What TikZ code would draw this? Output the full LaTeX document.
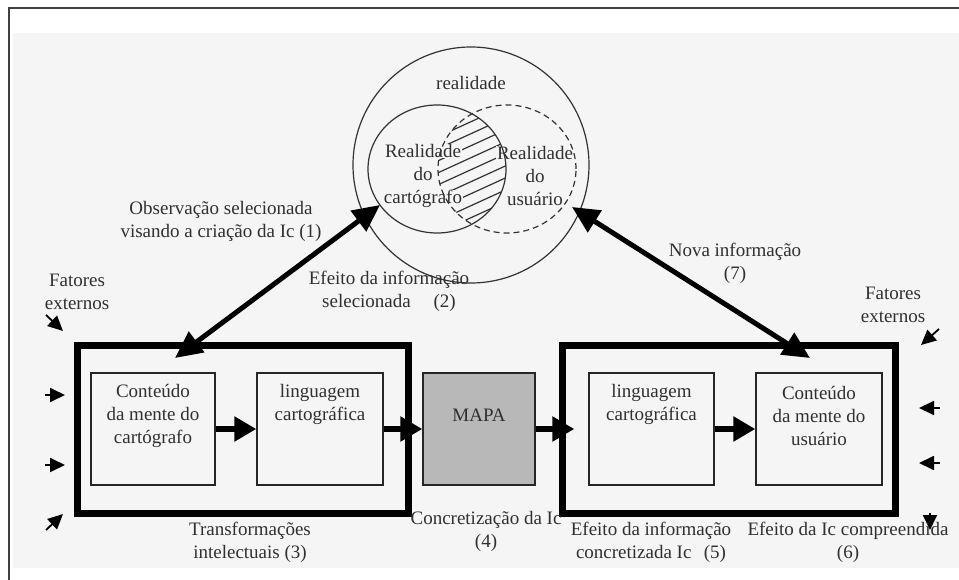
\documentclass[tikz,border=0pt]{standalone}
\usepackage{fontspec}
\setmainfont{Liberation Serif}
\usetikzlibrary{arrows.meta,shapes.geometric}
\definecolor{bgc}{HTML}{F5F5F5}
\definecolor{mapc}{HTML}{B8B8B8}
\definecolor{ink}{HTML}{303030}
% text set on a small patch of background colour, so hatching stops around it
\newcommand\halo[1]{{\setlength{\fboxsep}{0.6pt}\colorbox{bgc}{#1}}}

\begin{document}
\begin{tikzpicture}[x=1pt,y=-1pt,
  txt/.style={text=ink, align=center, font=\fontsize{19}{23}\selectfont, inner sep=0pt},
  inbox/.style={draw=black!85, line width=1.4pt, minimum width=#1, minimum height=112pt, inner sep=0pt},
  frame/.style={draw=black, line width=7pt, minimum width=#1, minimum height=168pt, inner sep=0pt},
  oval/.style={draw=black!80, line width=1.2pt, ellipse, minimum width=138pt, minimum height=128pt, inner sep=0pt},
  flow/.style={line width=6pt, -{Triangle[length=22pt,width=24pt]}},
  link/.style={line width=5pt, {Triangle[length=27pt,width=25pt]}-{Triangle[length=27pt,width=25pt]}},
  ext/.style={line width=1.8pt, -{Triangle[length=15pt,width=14pt]}}
]
\useasboundingbox (0,0) rectangle (959,580);
\fill[white] (0,0) rectangle (959,580);
\fill[bgc] (13,33) rectangle (959,568);
\draw[line width=1.5pt, black!75] (9,580) -- (9,8) -- (959,8);

% hatched overlap of the two realities
\begin{scope}
  \clip (437,169) ellipse [x radius=69, y radius=64];
  \clip (507,169) ellipse [x radius=69, y radius=64];
  \foreach \k in {-6,...,6}
    \draw[line width=1.2pt, black!80] (420,{169+12*\k+24}) -- (525,{169+12*\k-24});
\end{scope}

\node[txt] (tcart) at (423,176) {\halo{Realidade}\\\halo{do}\\\halo{cartógrafo}};
\node[txt] (tusu) at (535,176) {\halo{Realidade}\\\halo{do}\\\halo{usuário}};

% reality circles
\node[draw=black!80, line width=1.2pt, circle, minimum size=236pt, inner sep=0pt] (real) at (471,165) {};
\node[oval] (lc) at (437,169) {};
\node[oval, dash pattern=on 6pt off 4pt] (rc) at (507,169) {};
\node[txt] (treal) at (471,83) {realidade};

% cartographer side and user side
\node[frame=331pt] (fl) at (242.5,429) {};
\node[frame=333pt] (fr) at (728.5,429) {};

\node[inbox=124pt] (c1) at (153,429) {};
\node[inbox=126pt] (l1) at (320,429) {};
\node[inbox=112pt, fill=mapc] (mapa) at (479,429) {};
\node[inbox=125pt] (l2) at (651.5,429) {};
\node[inbox=126pt] (c2) at (819,429) {};

\node[txt] at ([yshift=13pt]c1.center) {Conteúdo\\da mente do\\cartógrafo};
\node[txt] at ([yshift=24.5pt]l1.center) {linguagem\\cartográfica};
\node[txt] at ([yshift=14pt]mapa.center) {MAPA};
\node[txt] at ([yshift=24.5pt]l2.center) {linguagem\\cartográfica};
\node[txt] at ([yshift=13pt]c2.center) {Conteúdo\\da mente do\\usuário};

% flow between boxes
\draw[flow] (c1.east) -- (l1.west);
\draw[flow] (l1.east) -- (mapa.west);
\draw[flow] (mapa.east) -- ([xshift=-14pt]l2.west);
\draw[flow] (l2.east) -- (c2.west);

% links between the realities and the minds
\coordinate (cin) at (175,358);
\coordinate (cout) at (380,205);
\coordinate (uin) at (810,358);
\coordinate (uout) at (572,207);
\draw[link] (cin) -- (cout);
\draw[link] (uin) -- (uout);

% external factors
\coordinate (e1a) at (46,315);  \coordinate (e1b) at (63,331);
\coordinate (e2a) at (45,395);  \coordinate (e2b) at (65,395);
\coordinate (e3a) at (45,465);  \coordinate (e3b) at (65,465);
\coordinate (e4a) at (46,530);  \coordinate (e4b) at (63,514);
\coordinate (e5a) at (939,329); \coordinate (e5b) at (921,345);
\coordinate (e6a) at (940,408); \coordinate (e6b) at (919,408);
\coordinate (e7a) at (940,463); \coordinate (e7b) at (919,463);
\coordinate (e8a) at (930,513); \coordinate (e8b) at (930,530);
\foreach \i in {1,...,8} \draw[ext] (e\i a) -- (e\i b);

% labels
\node[txt] (fxl) at (77,292) {Fatores\\externos};
\node[txt] (fxr) at (893,305) {Fatores\\externos};
\node[txt] (lb1) at (221,221) {Observação selecionada\\visando a criação da Ic (1)};
\node[txt] (lb2) at (389,291.5) {Efeito da informação\\selecionada\hspace{1.2em}(2)};
\node[txt] (lb7) at (735,263.5) {Nova informação\\(7)};
\node[txt] (lb3) at (250,542.5) {Transformações\\intelectuais (3)};
\node[txt] (lb4) at (486,531) {Concretização da Ic\\(4)};
\node[txt] (lb5) at (651,542.5) {Efeito da informação\\concretizada Ic\hspace{0.4em} (5)};
\node[txt] (lb6a) at (848,531) {Efeito da Ic compreendida};
\node[txt] (lb6b) at (848,554) {(6)};
\end{tikzpicture}
\end{document}
